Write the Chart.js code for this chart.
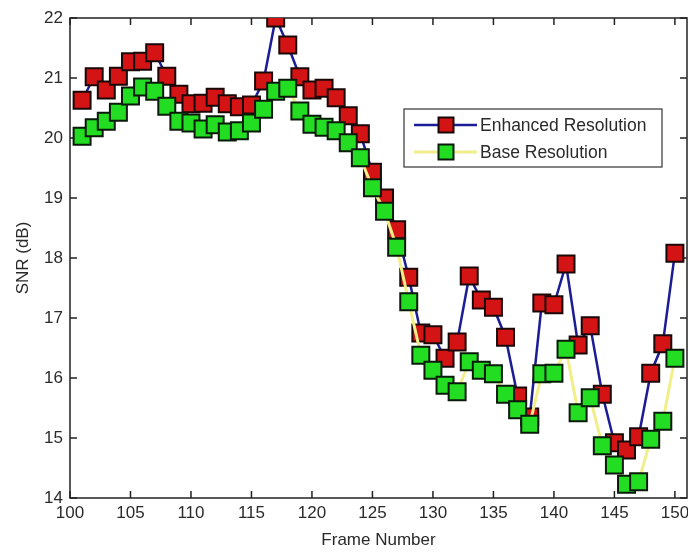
<!DOCTYPE html>
<html><head><meta charset="utf-8">
<script src="https://cdn.jsdelivr.net/npm/chart.js@4/dist/chart.umd.min.js"></script>
<style>html,body{margin:0;padding:0;background:#fff}#w{width:688px;height:552px;position:relative}</style>
</head><body><div id="w"><canvas id="c" width="688" height="552"></canvas></div>
<script>
const frames = [101,102,103,104,105,106,107,108,109,110,111,112,113,114,115,116,117,118,119,120,121,122,123,124,125,126,127,128,129,130,131,132,133,134,135,136,137,138,139,140,141,142,143,144,145,146,147,148,149,150];
const enhanced = [20.63,21.02,20.80,21.03,21.27,21.28,21.42,21.03,20.73,20.57,20.58,20.68,20.57,20.52,20.55,20.95,22.00,21.55,21.02,20.80,20.83,20.67,20.37,20.07,19.43,19.00,18.47,17.68,16.75,16.72,16.33,16.60,17.70,17.30,17.18,16.68,15.70,15.35,17.25,17.22,17.90,16.55,16.87,15.73,14.92,14.80,15.02,16.08,16.57,18.08];
const base = [20.03,20.17,20.28,20.43,20.70,20.85,20.78,20.53,20.28,20.25,20.15,20.22,20.10,20.12,20.25,20.48,20.78,20.83,20.45,20.23,20.18,20.12,19.92,19.67,19.17,18.78,18.18,17.27,16.38,16.13,15.88,15.77,16.27,16.13,16.07,15.73,15.47,15.23,16.07,16.08,16.48,15.42,15.67,14.87,14.55,14.23,14.27,14.98,15.28,16.33];
const xTicks = [100,105,110,115,120,125,130,135,140,145,150];
const yTicks = [14,15,16,17,18,19,20,21,22];
const seriesNames = ['Enhanced Resolution','Base Resolution'];

const FONT = '"Liberation Sans", Arial, Helvetica, sans-serif';
const TXT = '#2a2a2a';

const axesBox = {
  id: 'axesBox',
  beforeDatasetsDraw(chart) {
    const {ctx, chartArea: a, scales: {x, y}} = chart;
    ctx.save();
    ctx.strokeStyle = '#222';
    ctx.lineWidth = 1.5;
    ctx.strokeRect(a.left, a.top, a.right - a.left, a.bottom - a.top);
    const L = 7;
    ctx.beginPath();
    xTicks.forEach(v => {
      const px = x.getPixelForValue(v);
      ctx.moveTo(px, a.bottom); ctx.lineTo(px, a.bottom - L);
      ctx.moveTo(px, a.top); ctx.lineTo(px, a.top + L);
    });
    yTicks.forEach(v => {
      const py = y.getPixelForValue(v);
      ctx.moveTo(a.left, py); ctx.lineTo(a.left + L, py);
      ctx.moveTo(a.right, py); ctx.lineTo(a.right - L, py);
    });
    ctx.stroke();
    ctx.restore();
  }
};

const boxLegend = {
  id: 'boxLegend',
  afterDatasetsDraw(chart) {
    const {ctx} = chart;
    const bx = 404, by = 109, bw = 258, bh = 58;
    ctx.save();
    ctx.fillStyle = '#fff';
    ctx.fillRect(bx, by, bw, bh);
    ctx.strokeStyle = '#333';
    ctx.lineWidth = 1.2;
    ctx.strokeRect(bx, by, bw, bh);
    const rows = [125, 152];
    chart.data.datasets.forEach((ds, i) => {
      const yy = rows[i];
      ctx.strokeStyle = ds.borderColor;
      ctx.lineWidth = ds.borderWidth;
      ctx.beginPath(); ctx.moveTo(414, yy); ctx.lineTo(477, yy); ctx.stroke();
      const s = 15;
      ctx.fillStyle = ds.pointBackgroundColor;
      ctx.fillRect(446 - s/2, yy - s/2, s, s);
      ctx.strokeStyle = ds.pointBorderColor;
      ctx.lineWidth = ds.pointBorderWidth;
      ctx.strokeRect(446 - s/2, yy - s/2, s, s);
      ctx.fillStyle = TXT;
      ctx.font = '17.5px ' + FONT;
      ctx.textBaseline = 'middle';
      ctx.textAlign = 'left';
      ctx.fillText(ds.label, 480, yy + 1);
    });
    ctx.restore();
  }
};

new Chart(document.getElementById('c'), {
  type: 'line',
  data: {
    datasets: [
      {
        label: seriesNames[0],
        data: frames.map((f, i) => ({x: f, y: enhanced[i]})),
        borderColor: '#1c1c96',
        borderWidth: 2.5,
        pointStyle: 'rect',
        pointRadius: 12,
        pointBackgroundColor: '#d41414',
        pointBorderColor: '#1a0808',
        pointBorderWidth: 2,
        tension: 0,
        order: 2
      },
      {
        label: seriesNames[1],
        data: frames.map((f, i) => ({x: f, y: base[i]})),
        borderColor: '#f2ee8a',
        borderWidth: 3,
        pointStyle: 'rect',
        pointRadius: 12,
        pointBackgroundColor: '#22dd22',
        pointBorderColor: '#0a1a0a',
        pointBorderWidth: 2,
        tension: 0,
        order: 1
      }
    ]
  },
  options: {
    responsive: false,
    animation: false,
    devicePixelRatio: 1,
    layout: {autoPadding: false, padding: {top: 18, right: 1, left: 0, bottom: 0}},
    plugins: {legend: {display: false}, tooltip: {enabled: false}},
    scales: {
      x: {
        type: 'linear', min: 100, max: 151,
        afterBuildTicks: s => { s.ticks = xTicks.map(v => ({value: v})); },
        afterFit: s => { s.height = 54; s.paddingLeft = 0; s.paddingRight = 0; },
        grid: {display: false, drawTicks: false},
        border: {display: false},
        ticks: {font: {family: FONT, size: 17}, color: TXT, padding: 5, maxRotation: 0, autoSkip: false},
        title: {display: true, text: 'Frame Number', font: {family: FONT, size: 17}, color: TXT, padding: {top: 0, bottom: 1}}
      },
      y: {
        type: 'linear', min: 14, max: 22,
        afterBuildTicks: s => { s.ticks = yTicks.map(v => ({value: v})); },
        afterFit: s => { s.width = 70; s.paddingTop = 0; s.paddingBottom = 0; },
        grid: {display: false, drawTicks: false},
        border: {display: false},
        ticks: {font: {family: FONT, size: 17}, color: TXT, padding: 7, autoSkip: false},
        title: {display: true, text: 'SNR (dB)', font: {family: FONT, size: 17}, color: TXT, padding: {top: 13, bottom: 0}}
      }
    }
  },
  plugins: [axesBox, boxLegend]
});
</script>
</body></html>
